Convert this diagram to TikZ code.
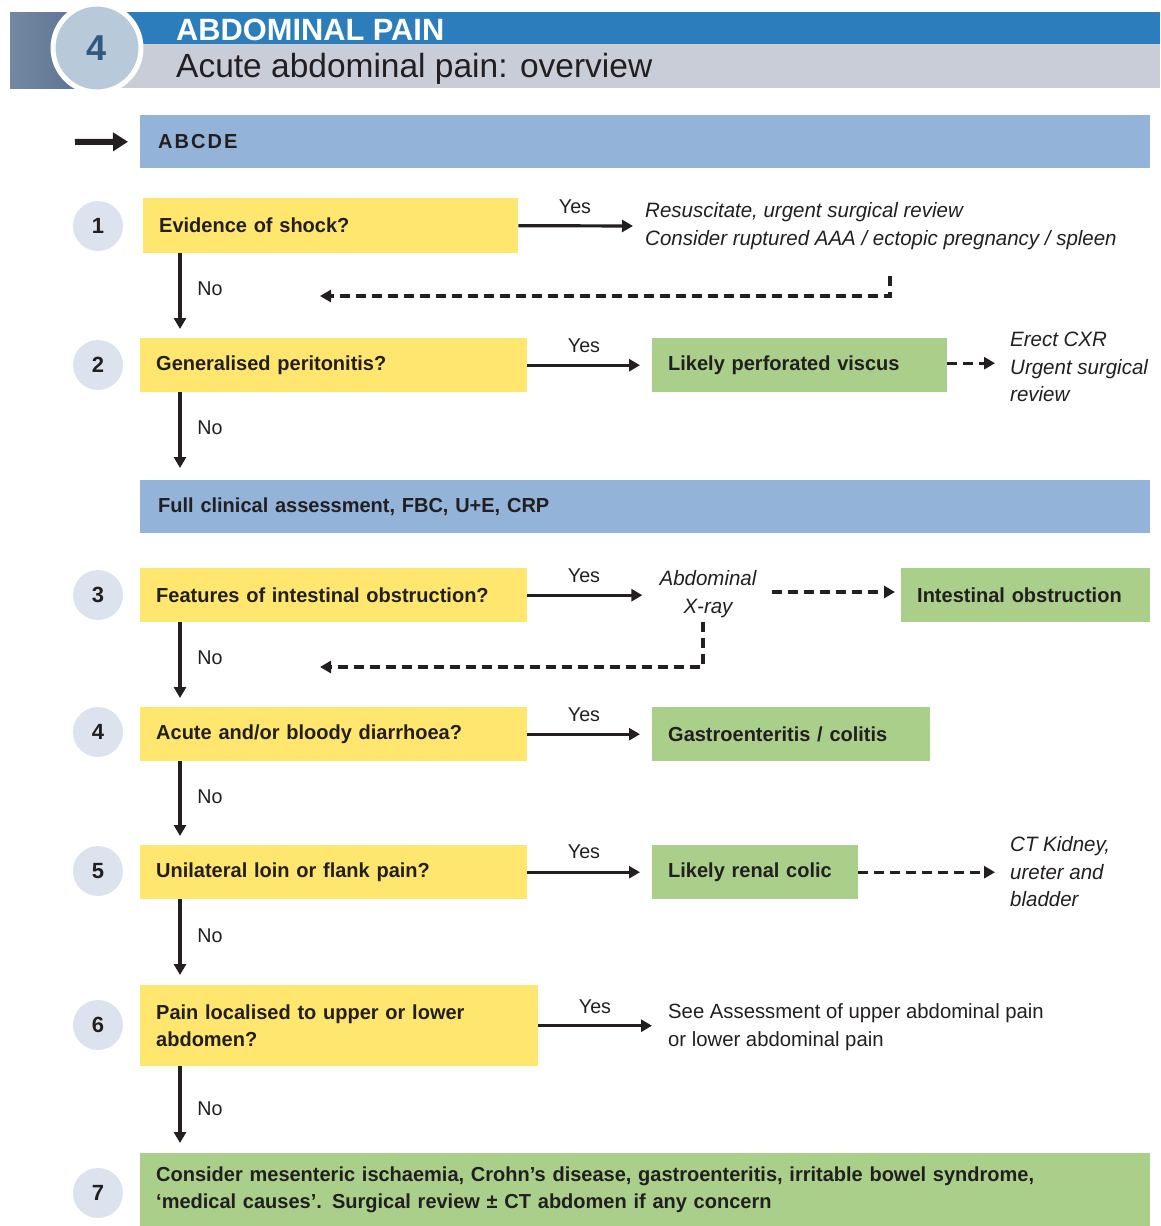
\documentclass[tikz,border=0pt]{standalone}
\usepackage{fontspec}
\setmainfont{Liberation Sans}
\newfontfamily\cond{Liberation Sans}[FakeStretch=0.985]
\usetikzlibrary{arrows.meta,calc}
\definecolor{yel}{HTML}{FFE66E}
\definecolor{grn}{HTML}{A9CF8A}
\definecolor{blu}{HTML}{93B3D9}
\definecolor{numc}{HTML}{DCE2EE}
\definecolor{hblue}{HTML}{2B7EBB}
\definecolor{hgray}{HTML}{C9CDD8}
\definecolor{hdarkA}{HTML}{7389A3}
\definecolor{hdarkB}{HTML}{4F6988}
\definecolor{bigc}{HTML}{B8C9DA}
\definecolor{bignum}{HTML}{2F5A7E}
\definecolor{ink}{HTML}{231F20}
\tikzset{
  boxfont/.style={font=\cond\bfseries\fontsize{20.3}{27}\selectfont},
  qbox/.style={boxfont, fill=yel, anchor=north west, inner xsep=16pt, inner ysep=0pt, align=left, text=ink},
  gbox/.style={boxfont, fill=grn, anchor=north west, inner xsep=16pt, inner ysep=0pt, align=left, text=ink},
  bbox/.style={boxfont, fill=blu, anchor=north west, inner xsep=18pt, inner ysep=0pt, align=left, text=ink},
  numnode/.style={circle, fill=numc, minimum size=50pt, inner sep=0pt, text=ink, font=\bfseries\fontsize{22}{22}\selectfont},
  itext/.style={font=\cond\itshape\fontsize{20.8}{27.5}\selectfont, text=ink, inner sep=0pt, align=left},
  ptext/.style={font=\cond\fontsize{20.6}{28}\selectfont, text=ink, inner sep=0pt, align=left},
  lbl/.style={font=\cond\fontsize{20}{20}\selectfont, text=ink, inner sep=0pt},
  arr/.style={draw=ink, line width=3.2pt, -{Triangle[length=11pt,width=12pt]}},
  dsh/.style={draw=ink, line width=3.2pt, dash pattern=on 10pt off 6pt, -{Triangle[length=11pt,width=12pt]}},
}
\begin{document}
\begin{tikzpicture}[x=1pt,y=-1pt]
\useasboundingbox (0,0) rectangle (1160,1226);
% header
\shade[left color=hdarkA, right color=hdarkB] (10,12) rectangle (118,88);
\fill[hblue] (118,12) rectangle (1160,44);
\fill[hgray] (118,44) rectangle (1160,88);
\node[circle, fill=bigc, draw=white, line width=5pt, minimum size=88pt, inner sep=0pt,
      text=bignum, font=\bfseries\fontsize{36}{36}\selectfont] (chap) at (97,48) {4};
\node[anchor=base west, inner sep=0pt, text=white, font=\bfseries\fontsize{30.8}{30}\selectfont] (htitle) at (176,40) {ABDOMINAL PAIN};
\node[anchor=base west, inner sep=0pt, text=ink, font=\fontsize{33.5}{33}\selectfont] (hsub) at (176,77) {Acute abdominal pain: overview};

% ABCDE
\node[bbox, minimum width=1010pt, minimum height=53pt, text width=974pt] (ab) at (140,115) {\addfontfeature{LetterSpace=10}ABCDE};
\coordinate (abstart) at (75,142);
\draw[draw=ink, line width=6pt, -{Triangle[length=15pt,width=18pt]}, shorten >=12pt] (abstart) -- (ab.west);

\coordinate (col) at (180,0);

% Row 1
\node[numnode] (n1) at (98,226) {1};
\node[qbox, minimum width=375pt, minimum height=55pt, text width=343pt] (q1) at (143,198) {Evidence of shock?};
\node[itext, anchor=west] (r1) at (645,226) {Resuscitate, urgent surgical review\\Consider ruptured AAA / ectopic pregnancy / spleen};
\draw[arr, shorten >=12pt] (q1.east) -- (r1.west);
\node[lbl] (y1) at (575,207) {Yes};
\coordinate (d1a) at (890,276);
\coordinate (d1b) at (320,296);
\draw[dsh] (d1a) |- (d1b);

% Row 2
\node[numnode] (n2) at (98,365) {2};
\node[qbox, minimum width=387pt, minimum height=54pt, text width=355pt] (q2) at (140,338) {Generalised peritonitis?};
\draw[arr, shorten >=9pt] (q1.south -| col) -- (q2.north -| col);
\node[lbl] (no1) at (210,289) {No};
\node[gbox, minimum width=295pt, minimum height=54pt, text width=263pt] (g2) at (652,338) {Likely perforated viscus};
\draw[arr, shorten >=12pt] (q2.east) -- (g2.west);
\node[lbl] (y2) at (584,346) {Yes};
\node[itext, anchor=west] (t2) at (1010,367) {Erect CXR\\Urgent surgical\\review};
\draw[dsh, shorten >=15pt] ([yshift=2pt]g2.east) -- ([yshift=2pt]g2.east -| t2.west);

% Full clinical assessment
\node[bbox, minimum width=1010pt, minimum height=53pt, text width=974pt] (fc) at (140,480) {Full clinical assessment, FBC, U+E, CRP};
\draw[arr, shorten >=12pt] (q2.south -| col) -- (fc.north -| col);
\node[lbl] (no2) at (210,428) {No};

% Row 3
\node[numnode] (n3) at (98,595) {3};
\node[qbox, minimum width=387pt, minimum height=54pt, text width=355pt] (q3) at (140,568) {Features of intestinal obstruction?};
\node[itext, align=center, anchor=center] (x3) at (708,594) {Abdominal\\X-ray};
\draw[arr, shorten >=17pt] (q3.east) -- (q3.east -| x3.west);
\node[lbl] (y3) at (584,576) {Yes};
\node[gbox, minimum width=249pt, minimum height=54pt, text width=217pt] (g3) at (901,568) {Intestinal obstruction};
\draw[dsh, shorten <=15pt, shorten >=6pt] ([yshift=2pt]x3.east) -- ([yshift=2pt]x3.east -| g3.west);
\coordinate (d3b) at (320,667);
\draw[dsh, shorten <=4pt] ([xshift=-5pt]x3.south) |- (d3b);

% Row 4
\node[numnode] (n4) at (98,732) {4};
\node[qbox, minimum width=387pt, minimum height=54pt, text width=355pt] (q4) at (140,707) {Acute and/or bloody diarrhoea?};
\draw[arr, shorten >=9pt] (q3.south -| col) -- (q4.north -| col);
\node[lbl] (no3) at (210,658) {No};
\node[gbox, minimum width=278pt, minimum height=54pt, text width=246pt] (g4) at (652,707) {Gastroenteritis / colitis};
\draw[arr, shorten >=12pt] (q4.east) -- (g4.west);
\node[lbl] (y4) at (584,715) {Yes};

% Row 5
\node[numnode] (n5) at (98,871) {5};
\node[qbox, minimum width=387pt, minimum height=54pt, text width=355pt] (q5) at (140,845) {Unilateral loin or flank pain?};
\draw[arr, shorten >=9pt] (q4.south -| col) -- (q5.north -| col);
\node[lbl] (no4) at (210,797) {No};
\node[gbox, minimum width=206pt, minimum height=54pt, text width=174pt] (g5) at (652,845) {Likely renal colic};
\draw[arr, shorten >=12pt] (q5.east) -- (g5.west);
\node[lbl] (y5) at (584,852) {Yes};
\node[itext, anchor=west] (t5) at (1010,872) {CT Kidney,\\ureter and\\bladder};
\draw[dsh, shorten >=15pt] (g5.east) -- (g5.east -| t5.west);

% Row 6
\node[numnode] (n6) at (98,1025) {6};
\node[qbox, minimum width=398pt, minimum height=81pt, text width=366pt] (q6) at (140,985) {Pain localised to upper or lower\\abdomen?};
\draw[arr, shorten >=10pt] (q5.south -| col) -- (q6.north -| col);
\node[lbl] (no5) at (210,936) {No};
\node[ptext, anchor=west] (t6) at (668,1027) {See Assessment of upper abdominal pain\\or lower abdominal pain};
\draw[arr, shorten >=16pt] (q6.east) -- (t6.west |- q6.east);
\node[lbl] (y6) at (595,1007) {Yes};

% Row 7
\node[numnode] (n7) at (98,1193) {7};
\node[gbox, minimum width=1010pt, minimum height=73pt, text width=978pt] (g7) at (140,1153) {Consider mesenteric ischaemia, Crohn’s disease, gastroenteritis, irritable bowel syndrome,\\‘medical causes’. Surgical review ± CT abdomen if any concern};
\draw[arr, shorten >=10pt] (q6.south -| col) -- (g7.north -| col);
\node[lbl] (no6) at (210,1109) {No};
\end{tikzpicture}
\end{document}
